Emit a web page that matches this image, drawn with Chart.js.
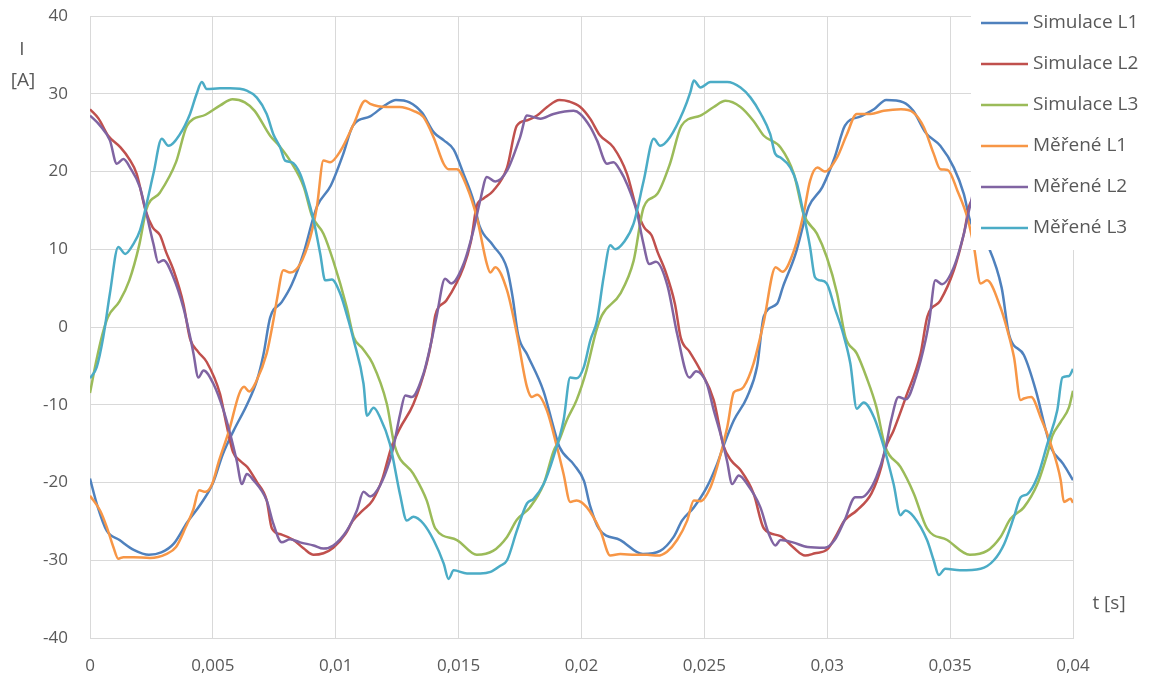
<!DOCTYPE html>
<html>
<head>
<meta charset="utf-8">
<title>Proudy L1 L2 L3</title>
<script src="https://cdn.jsdelivr.net/npm/chart.js@4/dist/chart.umd.min.js"></script>
<style>
  body { margin: 0; background: #fff; }
  #wrap { width: 1149px; height: 677px; }
</style>
</head>
<body>
<div id="wrap"><canvas id="chart" width="1149" height="677"></canvas></div>
<script>
// values: [t in ms, I in A]
const simL1 = [[0,-19.5],[0.3,-23],[0.68,-26.2],[1.2,-27.4],[1.8,-28.7],[2.4,-29.3],[2.9,-29.0],[3.4,-27.9],[3.96,-25.1],[4.5,-22.8],[5.0,-20.1],[5.4,-16.4],[5.85,-13.3],[6.4,-9.9],[6.8,-6.8],[7.06,-3.5],[7.33,1.2],[7.8,3.2],[8.2,5.4],[8.7,9.6],[9.1,14.2],[9.25,15.6],[9.8,18.2],[10.3,22.2],[10.7,25.9],[11.4,27.1],[12.0,28.5],[12.45,29.2],[13.0,28.9],[13.5,27.6],[14.0,25.0],[14.4,24.0],[14.8,22.8],[15.2,19.7],[15.6,16.3],[15.85,13.0],[16.4,10.5],[16.97,7.5],[17.2,3.8],[17.42,-1.0],[17.8,-3.6],[18.46,-8.3],[18.87,-13.0],[19.1,-15.4],[19.69,-17.7],[20.1,-19.8],[20.35,-23.0],[20.72,-26.0],[21.58,-27.4],[22.5,-29.2],[23.2,-28.8],[23.75,-27.0],[24.09,-24.9],[24.57,-23.2],[25.1,-20.6],[25.52,-17.6],[25.79,-15.2],[26.2,-12.0],[26.74,-9.0],[27.15,-5.0],[27.42,1.4],[27.96,3.0],[28.2,5.2],[28.7,9.3],[29.1,14.0],[29.25,15.5],[29.8,18.0],[30.3,21.8],[30.72,25.9],[31.36,27.1],[31.9,28.0],[32.4,29.2],[33.1,28.9],[33.5,27.8],[34.0,25.0],[34.6,23.3],[35.15,20.5],[35.56,17.1],[35.8,13.8],[36.6,10.0],[37.1,5.0],[37.4,-1.0],[38.0,-3.6],[38.5,-8.3],[38.87,-13.0],[39.1,-15.5],[39.6,-17.6],[40,-19.7]];

const simL2 = [[0,28.0],[0.35,26.8],[0.74,24.6],[1.24,23.1],[1.6,21.6],[1.9,19.7],[2.26,15.0],[2.55,12.8],[2.85,11.8],[3.1,9.6],[3.4,7.3],[3.8,3.0],[4.07,-1.5],[4.4,-3.2],[4.75,-4.5],[5.29,-8.6],[5.55,-12.5],[5.82,-16.1],[6.1,-17.2],[6.4,-18.0],[6.78,-19.9],[7.19,-22.3],[7.4,-25.9],[7.8,-26.7],[8.28,-27.4],[8.7,-28.5],[9.1,-29.3],[9.5,-29.1],[9.9,-28.4],[10.4,-26.6],[10.7,-24.9],[11.1,-23.6],[11.5,-22.3],[11.9,-19.5],[12.25,-15.6],[12.6,-13.1],[13.16,-9.9],[13.7,-4.7],[13.9,-1.7],[14.05,1.5],[14.5,3.4],[15.2,7.7],[15.5,11.0],[15.74,15.6],[16.0,16.5],[16.4,17.5],[16.97,20.5],[17.37,25.9],[17.8,26.6],[18.19,27.2],[18.6,28.3],[19.1,29.2],[19.5,29.0],[19.95,28.3],[20.35,26.8],[20.74,24.7],[21.3,23.1],[21.85,19.7],[22.26,15.0],[22.55,12.8],[22.85,11.8],[23.1,9.6],[23.4,7.3],[23.8,3.0],[24.04,-1.4],[24.4,-3.2],[24.84,-5.6],[25.38,-9.4],[25.79,-15.4],[26.1,-17.2],[26.47,-18.4],[27.0,-21.4],[27.42,-25.9],[28.1,-26.9],[28.6,-28.3],[29.1,-29.4],[29.5,-29.1],[30.0,-28.6],[30.4,-26.6],[30.7,-24.9],[31.2,-23.6],[31.8,-21.4],[32.2,-18.0],[32.36,-15.7],[32.7,-13.3],[33.2,-9.0],[33.8,-3.4],[34.07,1.3],[34.6,3.4],[35.15,7.3],[35.56,12.0],[35.8,15.8],[36.4,17.5],[37.0,20.5],[37.4,25.9],[38.2,27.2],[39.1,29.2],[40,28.3]];

const simL3 = [[0,-8.5],[0.24,-4.6],[0.5,-1.0],[0.73,1.3],[1.2,3.3],[1.6,6.0],[2.0,10.5],[2.3,15.2],[2.85,17.3],[3.5,21.2],[3.95,25.9],[4.7,27.3],[5.3,28.5],[5.8,29.3],[6.3,28.9],[6.7,27.8],[7.33,24.6],[7.7,23.3],[8.14,21.4],[8.7,18.0],[9.03,14.3],[9.5,12.0],[9.9,8.5],[10.45,2.5],[10.73,-1.3],[11.1,-2.8],[11.5,-4.7],[12.08,-9.9],[12.4,-15.3],[13.16,-18.9],[13.7,-22.3],[14.05,-25.9],[14.93,-27.4],[15.74,-29.3],[16.4,-28.8],[16.97,-27.0],[17.37,-24.8],[17.9,-23.2],[18.46,-20.2],[18.86,-16.0],[19.1,-14.5],[19.4,-12.0],[19.8,-9.4],[20.2,-5.6],[20.6,-0.5],[20.83,1.5],[21.58,4.3],[22.12,8.5],[22.53,15.4],[23.08,17.1],[23.6,21.0],[24.07,25.9],[24.84,27.2],[25.38,28.3],[25.86,29.1],[26.47,28.3],[27.0,26.5],[27.42,24.6],[28.1,23.1],[28.64,19.7],[29.04,14.5],[29.58,12.0],[29.98,9.0],[30.4,4.3],[30.74,-1.3],[31.2,-3.4],[31.6,-6.5],[32.0,-10.3],[32.36,-15.4],[32.98,-18.0],[33.52,-21.4],[34.06,-25.9],[34.88,-27.4],[35.8,-29.3],[36.5,-28.8],[37.05,-27.0],[37.45,-24.7],[38.0,-23.2],[38.55,-20.2],[38.96,-16.3],[39.16,-14.0],[39.5,-12.2],[39.84,-10.3],[40,-8.2]];

const merL1 = [[0,-21.7],[0.41,-23.6],[0.68,-25.7],[0.95,-28.3],[1.15,-29.8],[1.36,-29.6],[1.77,-29.6],[2.44,-29.7],[3.1,-29.2],[3.5,-28.3],[3.9,-25.7],[4.2,-23.5],[4.44,-21.0],[4.7,-21.2],[4.97,-20.2],[5.25,-17.2],[5.66,-13.3],[6.07,-8.6],[6.27,-7.7],[6.48,-8.3],[6.75,-7.1],[7.19,-3.4],[7.46,0.8],[7.6,3.4],[7.87,7.3],[8.14,7.0],[8.55,8.1],[8.96,11.5],[9.23,15.4],[9.5,21.4],[9.77,21.2],[10.2,22.7],[10.73,26.1],[11.2,29.1],[11.4,28.7],[12.08,28.3],[12.6,28.3],[13.16,27.8],[13.57,27.0],[13.98,24.4],[14.39,21.0],[14.59,20.3],[14.93,20.3],[15.34,18.0],[15.74,14.1],[16.15,8.1],[16.29,7.0],[16.49,7.7],[16.97,4.7],[17.37,-0.9],[17.78,-7.7],[17.98,-9.0],[18.2,-8.7],[18.59,-10.7],[19.0,-15.4],[19.27,-18.9],[19.54,-22.5],[19.8,-22.3],[20.22,-23.2],[20.77,-26.2],[21.17,-29.4],[21.58,-29.2],[22.2,-29.3],[22.67,-29.3],[23.1,-29.4],[23.48,-28.9],[23.89,-27.4],[24.3,-24.9],[24.57,-22.3],[24.84,-22.4],[25.25,-20.6],[25.52,-18.0],[25.93,-12.9],[26.2,-8.4],[26.4,-8.1],[26.6,-7.7],[27.0,-4.7],[27.4,0.4],[27.9,7.7],[28.17,7.1],[28.64,9.8],[29.04,14.6],[29.3,18.8],[29.6,20.5],[29.9,20.0],[30.4,21.8],[30.8,24.8],[31.2,27.4],[31.76,27.4],[32.3,27.8],[33.0,28.0],[33.5,27.6],[33.93,25.7],[34.33,22.3],[34.6,20.3],[34.9,20.2],[35.3,17.5],[35.7,14.1],[35.97,10.3],[36.24,5.6],[36.5,6.0],[37.05,2.5],[37.33,-0.4],[37.6,-3.9],[37.87,-9.4],[38.0,-9.2],[38.3,-9.0],[38.68,-11.6],[39.09,-15.0],[39.5,-19.7],[39.63,-22.5],[39.9,-22.1],[40,-22.6]];

const merL2 = [[0,27.2],[0.41,25.9],[0.81,24.0],[1.09,21.0],[1.36,21.6],[1.63,20.5],[2.03,18.0],[2.3,14.5],[2.58,10.7],[2.78,8.3],[2.99,8.6],[3.39,6.4],[3.8,2.5],[4.07,-1.2],[4.21,-3.4],[4.41,-6.5],[4.62,-5.6],[5.02,-7.3],[5.43,-10.7],[5.7,-13.7],[5.97,-17.2],[6.18,-20.2],[6.38,-18.9],[6.65,-19.7],[7.19,-22.3],[7.46,-25.3],[7.8,-27.7],[8.14,-27.3],[8.55,-27.7],[9.1,-28.1],[9.5,-28.5],[9.9,-28.1],[10.45,-26.2],[10.86,-23.6],[11.13,-21.2],[11.4,-21.8],[11.8,-20.4],[12.2,-17.2],[12.35,-15.4],[12.62,-11.2],[12.83,-8.8],[13.1,-9.0],[13.57,-6.0],[13.84,-2.6],[14.1,1.3],[14.45,6.2],[14.7,5.6],[15.2,8.1],[15.6,12.4],[15.88,16.3],[16.15,19.3],[16.49,18.7],[16.97,20.1],[17.5,24.4],[17.78,27.2],[18.33,26.8],[18.86,27.4],[19.68,27.8],[19.95,27.4],[20.36,25.7],[20.63,24.0],[21.04,21.0],[21.3,21.2],[21.58,20.1],[21.85,18.4],[22.26,14.7],[22.5,11.0],[22.76,8.1],[23.03,8.4],[23.5,5.3],[23.9,-1.0],[24.39,-6.5],[24.66,-5.7],[25.1,-7.3],[25.38,-10.7],[25.65,-13.7],[25.92,-17.2],[26.13,-20.2],[26.4,-19.1],[26.74,-20.2],[27.28,-23.2],[27.62,-26.6],[27.89,-28.1],[28.1,-27.4],[28.6,-27.7],[29.2,-28.3],[29.9,-28.4],[30.3,-27.4],[30.7,-24.9],[31.14,-21.9],[31.4,-21.9],[31.68,-21.2],[32.0,-19.3],[32.35,-15.9],[32.6,-12.0],[32.9,-9.0],[33.2,-9.3],[33.6,-6.5],[34.0,-1.7],[34.15,0.8],[34.4,6.0],[34.67,5.5],[35.15,7.7],[35.56,12.0],[35.8,15.4],[36.15,19.3],[36.5,18.7],[37.0,20.1],[37.5,24.4],[37.8,27.2],[38.3,26.8],[38.9,27.4],[39.7,27.8],[40,27.3]];

const merL3 = [[0,-6.6],[0.27,-5.2],[0.54,-1.3],[0.81,4.3],[1.15,10.3],[1.43,9.4],[1.77,10.7],[2.03,12.4],[2.3,15.8],[2.58,19.7],[2.92,24.2],[3.19,23.3],[3.66,24.8],[4.07,27.4],[4.34,30.0],[4.55,31.5],[4.75,30.6],[5.29,30.7],[5.7,30.7],[6.38,30.4],[6.79,29.5],[7.19,27.4],[7.46,24.8],[7.74,23.1],[7.94,21.4],[8.2,21.2],[8.55,19.7],[8.82,17.1],[9.1,13.7],[9.37,9.4],[9.57,6.0],[9.84,6.1],[10.18,4.3],[10.52,0.8],[10.73,-1.7],[11.13,-7.3],[11.27,-11.4],[11.54,-10.4],[11.8,-11.6],[12.2,-15.0],[12.62,-21.6],[12.89,-24.9],[13.16,-24.4],[13.57,-25.3],[13.98,-27.4],[14.39,-30.4],[14.59,-32.4],[14.8,-31.3],[15.34,-31.7],[15.88,-31.7],[16.3,-31.5],[16.7,-30.7],[16.97,-30.0],[17.37,-26.2],[17.78,-22.7],[18.05,-22.1],[18.46,-20.2],[18.86,-16.7],[19.27,-12.0],[19.54,-6.5],[19.8,-6.6],[20.09,-5.2],[20.36,-1.7],[20.63,0.8],[20.9,6.4],[21.17,10.5],[21.37,10.0],[21.72,10.9],[22.12,13.3],[22.53,18.8],[22.94,24.2],[23.2,23.3],[23.6,24.4],[24.15,27.8],[24.43,30.2],[24.57,31.7],[24.84,30.8],[25.25,31.5],[25.93,31.5],[26.47,30.8],[26.88,29.5],[27.3,27.4],[27.68,24.8],[27.88,22.3],[28.1,21.8],[28.5,20.5],[28.77,18.4],[29.04,14.5],[29.3,10.3],[29.5,6.4],[29.7,6.0],[29.98,5.6],[30.3,2.5],[30.65,-0.9],[30.94,-4.7],[31.2,-10.5],[31.48,-9.7],[31.9,-11.6],[32.3,-15.4],[32.7,-20.2],[32.98,-24.2],[33.18,-23.6],[33.52,-24.4],[34.06,-27.4],[34.33,-30.0],[34.54,-31.9],[34.8,-31.1],[35.4,-31.3],[36.24,-31.1],[36.78,-30.0],[37.2,-27.9],[37.6,-24.4],[37.87,-21.9],[38.14,-21.5],[38.55,-19.3],[38.96,-15.0],[39.36,-10.7],[39.57,-6.5],[39.84,-6.3],[40,-5.4]];

const seriesNames = ['Simulace L1', 'Simulace L2', 'Simulace L3', 'Měřené L1', 'Měřené L2', 'Měřené L3'];
const seriesColors = ['#4f81bd', '#c0504d', '#9bbb59', '#f79646', '#8064a2', '#4bacc6'];
const seriesData = [simL1, simL2, simL3, merL1, merL2, merL3];

const xTickValues = [0, 0.005, 0.01, 0.015, 0.02, 0.025, 0.03, 0.035, 0.04];
const xTickLabels = ['0', '0,005', '0,01', '0,015', '0,02', '0,025', '0,03', '0,035', '0,04'];
const yTickValues = [-40, -30, -20, -10, 0, 10, 20, 30, 40];

const textColor = '#595959';
const gridColor = '#d9d9d9';
Chart.defaults.font.family = "'Open Sans', sans-serif";

// white legend box over the top right corner, plus axis titles
const overlayPlugin = {
    id: 'overlay',
    afterDraw(chart) {
        const ctx = chart.ctx;
        ctx.save();
        ctx.fillStyle = '#fff';
        ctx.fillRect(971, 0, 178, 250);

        ctx.font = "19px 'Open Sans'";
        ctx.textBaseline = 'middle';
        seriesNames.forEach((name, i) => {
            const y = 23 + i * 41;
            ctx.strokeStyle = seriesColors[i];
            ctx.lineWidth = 2.5;
            ctx.beginPath();
            ctx.moveTo(981, y);
            ctx.lineTo(1028, y);
            ctx.stroke();
            ctx.fillStyle = textColor;
            ctx.textAlign = 'left';
            ctx.fillText(name, 1033, y);
        });

        ctx.fillStyle = textColor;
        ctx.textAlign = 'center';
        ctx.fillText('I', 22, 50);
        ctx.fillText('[A]', 23, 81);
        ctx.fillText('t [s]', 1109, 604);
        ctx.restore();
    }
};

new Chart(document.getElementById('chart'), {
    type: 'line',
    data: {
        datasets: seriesData.map((pts, i) => ({
            label: seriesNames[i],
            data: pts.map(p => ({ x: p[0] / 1000, y: p[1] })),
            borderColor: seriesColors[i],
            borderWidth: 2.5,
            pointRadius: 0,
            cubicInterpolationMode: 'monotone',
            fill: false,
            order: seriesData.length - i
        }))
    },
    options: {
        responsive: false,
        animation: false,
        layout: { padding: { top: 16, right: 76, left: 0, bottom: 0 } },
        plugins: {
            legend: { display: false },
            tooltip: { enabled: false }
        },
        scales: {
            x: {
                type: 'linear',
                min: 0,
                max: 0.04,
                afterBuildTicks: axis => { axis.ticks = xTickValues.map(v => ({ value: v })); },
                afterFit: s => { s.height = 39; },
                grid: { color: gridColor, drawTicks: false },
                border: { color: gridColor },
                ticks: {
                    padding: 18,
                    color: textColor,
                    font: { size: 17 },
                    maxRotation: 0,
                    autoSkip: false,
                    callback: (v, i) => xTickLabels[i]
                }
            },
            y: {
                min: -40,
                max: 40,
                afterBuildTicks: axis => { axis.ticks = yTickValues.map(v => ({ value: v })); },
                afterFit: s => { s.width = 90; s.paddingTop = 0; s.paddingBottom = 0; },
                grid: { color: gridColor, drawTicks: false },
                border: { color: gridColor },
                ticks: {
                    padding: 22,
                    color: textColor,
                    font: { size: 17 }
                }
            }
        }
    },
    plugins: [overlayPlugin]
});
</script>
</body>
</html>
